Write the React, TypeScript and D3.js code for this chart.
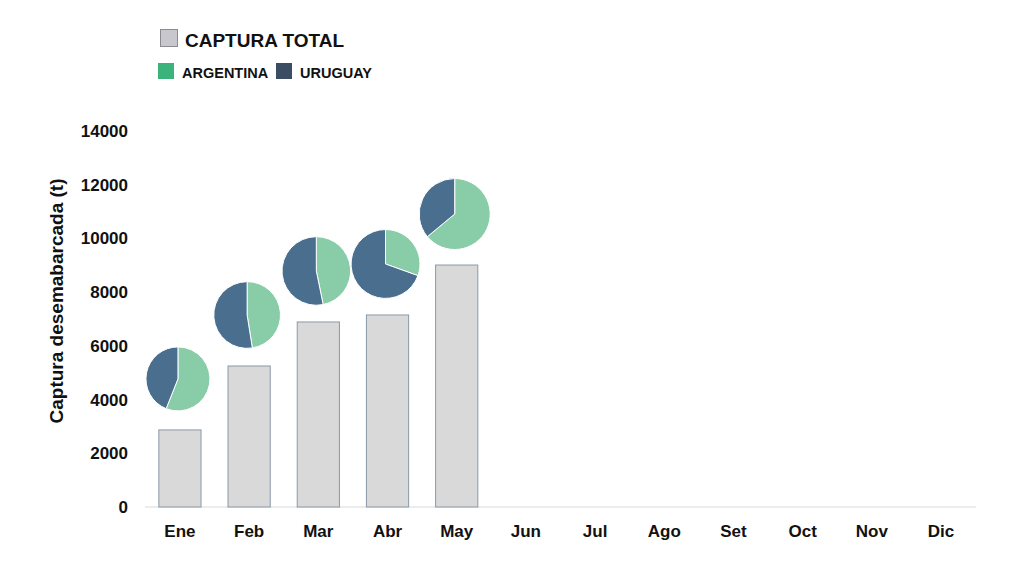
import { useEffect, useRef } from "react";
import * as d3 from "d3";

const MONTHS = ["Ene", "Feb", "Mar", "Abr", "May", "Jun", "Jul", "Ago", "Set", "Oct", "Nov", "Dic"];
// Captura total (t), only Jan–May reported
const TOTAL = [2870, 5250, 6890, 7150, 9010];
// share of Argentina in each month's catch (rest = Uruguay)
const ARG_SHARE = [0.56, 0.475, 0.468, 0.305, 0.64];
const Y_TICKS = [0, 2000, 4000, 6000, 8000, 10000, 12000, 14000];

const W = 1024;
const H = 576;
const MARGIN = { top: 131, right: 48, bottom: 69, left: 145 };
const FONT = "'Liberation Sans', Arial, sans-serif";

const C_BAR = "#d9d9d9";
const C_BAR_STROKE = "#8a99a8";
const C_ARG = "#88cca8";
const C_URU = "#4a6e8e";

export default function App() {
  const svgRef = useRef<SVGSVGElement>(null);

  useEffect(() => {
    const svg = d3.select(svgRef.current!);
    svg.selectAll("*").remove();

    const x = d3
      .scaleBand<string>()
      .domain(MONTHS)
      .range([MARGIN.left, W - MARGIN.right])
      .paddingInner(0.39)
      .paddingOuter(0.2);
    const y = d3
      .scaleLinear()
      .domain([0, 14000])
      .range([H - MARGIN.bottom, MARGIN.top]);

    // baseline
    svg
      .append("line")
      .attr("x1", MARGIN.left)
      .attr("x2", W - MARGIN.right)
      .attr("y1", y(0))
      .attr("y2", y(0))
      .attr("stroke", "#d9d9d9")
      .attr("stroke-width", 1);

    // y labels
    svg
      .append("g")
      .selectAll("text")
      .data(Y_TICKS)
      .enter()
      .append("text")
      .attr("x", MARGIN.left - 17)
      .attr("y", (d) => y(d))
      .attr("dy", "0.35em")
      .attr("text-anchor", "end")
      .attr("font-family", FONT)
      .attr("font-weight", "bold")
      .attr("font-size", 17)
      .attr("fill", "#111")
      .text((d) => String(d));

    svg
      .append("text")
      .attr("transform", `translate(63, 301) rotate(-90)`)
      .attr("text-anchor", "middle")
      .attr("font-family", FONT)
      .attr("font-weight", "bold")
      .attr("font-size", 19)
      .attr("fill", "#111")
      .text("Captura desemabarcada (t)");

    // x labels
    svg
      .append("g")
      .selectAll("text")
      .data(MONTHS)
      .enter()
      .append("text")
      .attr("x", (d) => x(d)! + x.bandwidth() / 2)
      .attr("y", y(0) + 30)
      .attr("text-anchor", "middle")
      .attr("font-family", FONT)
      .attr("font-weight", "bold")
      .attr("font-size", 17)
      .attr("fill", "#111")
      .text((d) => d);

    // bars
    svg
      .append("g")
      .selectAll("rect")
      .data(TOTAL)
      .enter()
      .append("rect")
      .attr("x", (_, i) => x(MONTHS[i])!)
      .attr("y", (d) => y(d))
      .attr("width", x.bandwidth())
      .attr("height", (d) => y(0) - y(d))
      .attr("fill", C_BAR)
      .attr("stroke", C_BAR_STROKE)
      .attr("stroke-width", 1);

    // pies above bars
    const r = d3.scaleLinear().domain(d3.extent(TOTAL) as [number, number]).range([32, 35.5]);
    const pie = d3.pie<number>().sort(null).value((d) => d);
    const arc = d3.arc<d3.PieArcDatum<number>>().innerRadius(0);

    TOTAL.forEach((tot, i) => {
      const rad = r(tot);
      const cx = x(MONTHS[i])! + x.bandwidth() / 2 - 2;
      const cy = y(tot) - 51;
      const g = svg.append("g").attr("transform", `translate(${cx},${cy})`);
      const arcs = pie([ARG_SHARE[i], 1 - ARG_SHARE[i]]);
      g.selectAll("path")
        .data(arcs)
        .enter()
        .append("path")
        .attr("d", (d) => arc.outerRadius(rad)(d) as string)
        .attr("fill", (_, j) => (j === 0 ? C_ARG : C_URU))
        .attr("stroke", "#ffffff")
        .attr("stroke-width", 1);
    });

    // legend
    const lg = svg.append("g");
    lg.append("rect")
      .attr("x", 160.5)
      .attr("y", 29.5)
      .attr("width", 17)
      .attr("height", 17)
      .attr("fill", "#c8c8cc")
      .attr("stroke", "#8a8a90");
    lg.append("text")
      .attr("x", 185)
      .attr("y", 47)
      .attr("font-family", FONT)
      .attr("font-weight", "bold")
      .attr("font-size", 19)
      .attr("fill", "#111")
      .text("CAPTURA TOTAL");

    const items = [
      { label: "ARGENTINA", color: "#3cb37a", x: 158 },
      { label: "URUGUAY", color: "#3a4d63", x: 276 },
    ];
    items.forEach((it) => {
      lg.append("rect")
        .attr("x", it.x)
        .attr("y", 63)
        .attr("width", 16)
        .attr("height", 16)
        .attr("fill", it.color);
      lg.append("text")
        .attr("x", it.x + 24)
        .attr("y", 78)
        .attr("font-family", FONT)
        .attr("font-weight", "bold")
        .attr("font-size", 14.5)
        .attr("fill", "#111")
        .text(it.label);
    });
  }, []);

  return (
    <svg
      ref={svgRef}
      width={W}
      height={H}
      style={{ display: "block", position: "absolute", left: 0, top: 0, background: "#fff" }}
    />
  );
}
